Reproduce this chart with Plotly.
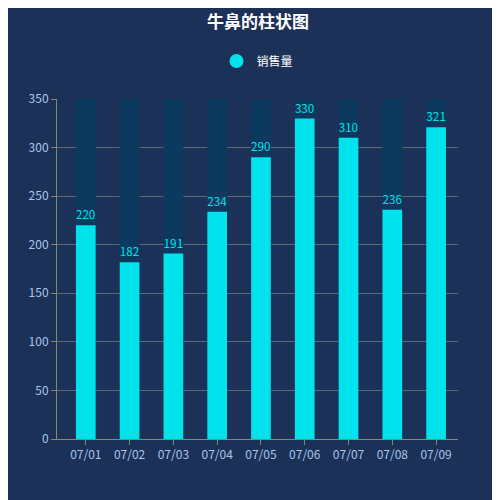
import plotly.graph_objects as go

dates = ["07/01", "07/02", "07/03", "07/04", "07/05", "07/06", "07/07", "07/08", "07/09"]
sales = [220, 182, 191, 234, 290, 330, 310, 236, 321]
bg_max = [350] * len(dates)

fig = go.Figure()
fig.add_trace(go.Bar(x=dates, y=bg_max, marker_color="#0b3a5e", marker_line_width=0,
                     width=0.45, showlegend=False, hoverinfo="skip"))
fig.add_trace(go.Bar(x=dates, y=sales, name="销售量", marker_color="#00e2ec",
                     marker_line_width=0, width=0.45, showlegend=False,
                     text=sales, textposition="outside", cliponaxis=False,
                     textfont=dict(color="#00e2ec", size=12)))
# circle legend marker
fig.add_trace(go.Scatter(x=[dates[0]], y=[None], mode="markers", name="销售量",
                         marker=dict(color="#00e2ec", size=14, symbol="circle")))

fig.update_layout(
    width=500, height=500,
    paper_bgcolor="#1c3157", plot_bgcolor="#1c3157",
    barmode="overlay",
    font=dict(family="Noto Sans CJK SC, sans-serif", color="#ffffff"),
    title=dict(text="<b>牛鼻的柱状图</b>", x=0.5, y=0.972, yanchor="middle", xanchor="center",
               font=dict(size=17, color="#ffffff")),
    legend=dict(orientation="h", x=0.5, xanchor="center", yref="container", y=0.894,
                yanchor="middle", font=dict(size=12, color="#ffffff"),
                bgcolor="rgba(0,0,0,0)"),
    margin=dict(l=49, r=50, t=91, b=69),
    showlegend=True,
    xaxis=dict(showline=True, linecolor="#8a8a6a", tickfont=dict(color="#a9c6ee", size=12),
               ticks="outside", tickcolor="#8a8a6a", showgrid=False),
    yaxis=dict(range=[0, 350], dtick=50, showline=True, linecolor="#8a8a6a",
               gridcolor="#5a6a7a", tickfont=dict(color="#a9c6ee", size=12),
               ticks="outside", tickcolor="#8a8a6a", zeroline=False),
)
fig.write_html("out.html")
